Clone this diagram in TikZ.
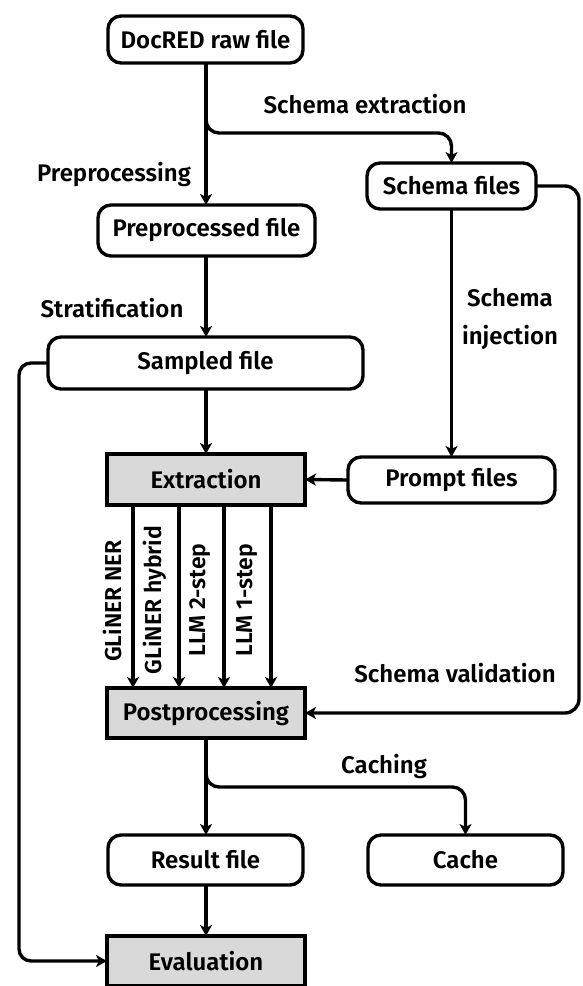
\documentclass[tikz,border=0pt]{standalone}
\usepackage{fontspec}
\setmainfont{Fira Sans}[UprightFont={* SemiBold}]
\usetikzlibrary{arrows.meta,calc}
\begin{document}
\begin{tikzpicture}[x=1pt,y=-1pt,
  font=\fontsize{24}{28}\selectfont,
  every node/.style={inner sep=0pt,outer sep=0pt},
  filebox/.style={draw=black,line width=3.4pt,rounded corners=13pt,fill=white},
  procbox/.style={draw=black,line width=3.4pt,fill=gray!30},
  conn/.style={draw=black,line width=3.4pt},
  arr/.style={conn,-{Stealth[length=11pt,width=12pt,inset=3pt]}},
  lbl/.style={text=black},
  rlbl/.style={text=black,rotate=90,font=\fontsize{23}{27}\selectfont}]
\useasboundingbox (0,0) rectangle (582,986);
% nodes
\node[filebox,minimum width=195pt,minimum height=47pt] (raw) at (205.5,39.5) {DocRED raw file};
\node[filebox,minimum width=169pt,minimum height=46pt] (schema) at (451.5,186) {Schema files};
\node[filebox,minimum width=217pt,minimum height=51pt] (pre) at (206.5,230.5) {Preprocessed file};
\node[filebox,minimum width=315pt,minimum height=52pt] (sampled) at (205.5,363) {Sampled file};
\node[procbox,minimum width=198pt,minimum height=51pt] (extr) at (206,479.5) {Extraction};
\node[filebox,minimum width=207pt,minimum height=46pt] (prompt) at (451.5,480) {Prompt files};
\node[procbox,minimum width=198pt,minimum height=50pt] (post) at (206,713) {Postprocessing};
\node[filebox,minimum width=195pt,minimum height=50pt] (result) at (205.5,860) {Result file};
\node[filebox,minimum width=195pt,minimum height=50pt] (cache) at (465.5,860) {Cache};
\node[procbox,minimum width=198pt,minimum height=50pt] (eval) at (206,961) {Evaluation};
% labels
\node[lbl] (lschext) at (365,104) {Schema extraction};
\node[lbl] (lprep) at (114,174) {Preprocessing};
\node[lbl] (lstrat) at (112,308) {Stratification};
\node[lbl,align=center,font=\fontsize{24}{38}\selectfont] (linj) at (510,319) {Schema\\injection};
\node[lbl] (lval) at (455,673) {Schema validation};
\node[lbl] (lcach) at (384,766) {Caching};
\node[rlbl] (lg1) at (112,601) {GLiNER NER};
\node[rlbl] (lg2) at (155,600) {GLiNER hybrid};
\node[rlbl] (lg3) at (200,600) {LLM 2-step};
\node[rlbl] (lg4) at (247,600) {LLM 1-step};
% connectors
\draw[arr] (raw.south -| extr.north) -- (pre.north -| extr.north);
\draw[arr,rounded corners=13pt] (raw.south -| extr.north) |- ($(schema.north)+(0,-30)$) -- (schema.north);
\draw[arr] (pre.south -| extr.north) -- (sampled.north -| extr.north);
\draw[arr] (sampled.south -| extr.north) -- (extr.north);
\draw[arr] (schema.south) -- (prompt.north);
\draw[arr] (prompt.west) -- (extr.east);
\draw[arr,rounded corners=14pt] (schema.east) -- ++(43,0) |- (post.east);
\draw[arr,rounded corners=12pt] (sampled.west) -- ++(-29,0) |- (eval.west);
\coordinate (b1) at (133,0);
\coordinate (b2) at (179,0);
\coordinate (b3) at (224,0);
\coordinate (b4) at (271,0);
\foreach \b in {b1,b2,b3,b4}
  \draw[arr] (\b |- extr.south) -- (\b |- post.north);
\draw[arr] (post.south) -- (result.north -| post.south);
\draw[arr,rounded corners=13pt] (post.south) |- ($(cache.north)+(0,-48)$) -- (cache.north);
\draw[arr] (result.south -| eval.north) -- (eval.north);
\end{tikzpicture}
\end{document}
